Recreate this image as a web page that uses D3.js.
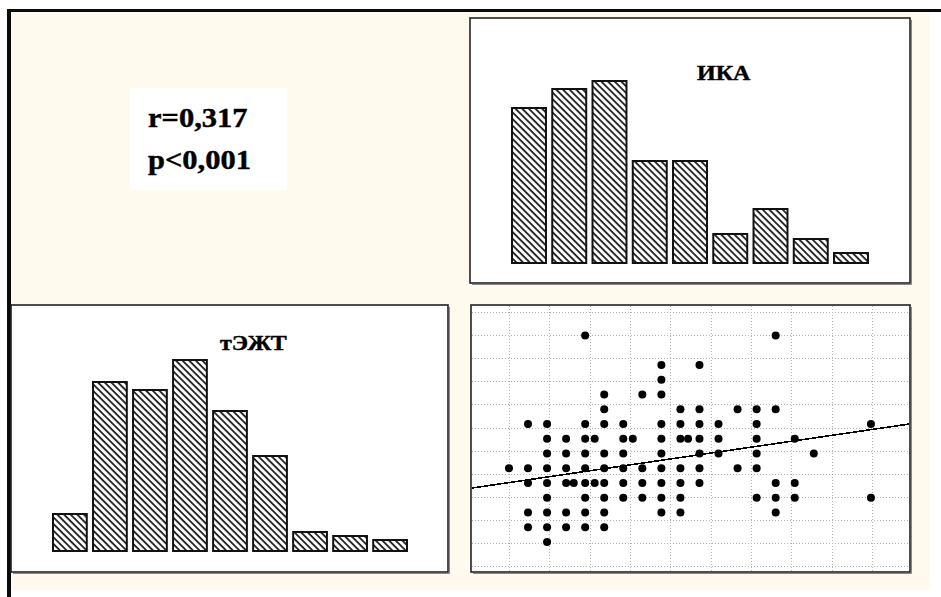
<!DOCTYPE html>
<html>
<head>
<meta charset="utf-8">
<script src="https://cdn.jsdelivr.net/npm/d3@7/dist/d3.min.js"></script>
<style>
  html, body { margin: 0; padding: 0; background: #ffffff; }
  svg { display: block; }
</style>
</head>
<body>
<script>
// ---- data -------------------------------------------------------------
// ИКА histogram: class number and frequency
const ikaClasses = [1, 2, 3, 4, 5, 6, 7, 8, 9];
const ikaFreq = [15.5, 17.4, 18.2, 10.2, 10.2, 2.9, 5.4, 2.4, 1.0];

// тЭЖТ histogram: class number and frequency
const tezhtClasses = [1, 2, 3, 4, 5, 6, 7, 8, 9];
const tezhtFreq = [3.7, 16.9, 16.1, 19.1, 14.0, 9.5, 1.9, 1.5, 1.1];

// scatter points (x, y), listed row by row from the top
const scatterX = [
  4, 14,
  8, 10,
  8,
  5, 7, 8,
  5, 9, 10, 12, 13, 14,
  1, 2, 4, 5, 6, 8, 9, 10, 11, 13, 19,
  2, 3, 4, 4.5, 6, 6.5, 8, 9, 9.4, 10, 11, 13, 15,
  2, 3, 4, 5, 6, 8, 10, 11, 13, 16,
  0, 1, 2, 3, 4, 5, 6, 7, 8, 9, 10, 12, 13,
  1, 2, 3, 3.4, 4, 4.5, 5, 6, 7, 8, 9, 10, 14, 15,
  2, 4, 5, 6, 7, 8, 9, 13, 14, 15, 19,
  1, 2, 3, 4, 5, 8, 9, 14,
  1, 2, 3, 4, 5,
  2
];
const scatterY = [
  14, 14,
  12, 12,
  11,
  10, 10, 10,
  9, 9, 9, 9, 9, 9,
  8, 8, 8, 8, 8, 8, 8, 8, 8, 8, 8,
  7, 7, 7, 7, 7, 7, 7, 7, 7, 7, 7, 7, 7,
  6, 6, 6, 6, 6, 6, 6, 6, 6, 6,
  5, 5, 5, 5, 5, 5, 5, 5, 5, 5, 5, 5, 5,
  4, 4, 4, 4, 4, 4, 4, 4, 4, 4, 4, 4, 4, 4,
  3, 3, 3, 3, 3, 3, 3, 3, 3, 3, 3,
  2, 2, 2, 2, 2, 2, 2, 2,
  1, 1, 1, 1, 1,
  0
];

// least-squares line y = a + b*x
const fitIntercept = 4.03;
const fitSlope = 0.189;

// correlation annotation
const statLines = ["r=0,317", "p<0,001"];
const ikaTitle = "ИКА";
const tezhtTitle = "тЭЖТ";

// ---- layout -----------------------------------------------------------
const W = 941, H = 597;
const svg = d3.select("body").append("svg")
  .attr("width", W).attr("height", H)
  .attr("viewBox", `0 0 ${W} ${H}`);

const defs = svg.append("defs");
// diagonal hatch for the histogram bars
const hatch = defs.append("pattern")
  .attr("id", "hatch")
  .attr("patternUnits", "userSpaceOnUse")
  .attr("width", 4.7).attr("height", 10)
  .attr("patternTransform", "rotate(-45)");
hatch.append("rect").attr("width", 4.7).attr("height", 10).attr("fill", "#ffffff");
hatch.append("line")
  .attr("x1", 1).attr("y1", 0).attr("x2", 1).attr("y2", 10)
  .attr("stroke", "#111").attr("stroke-width", 1.7);

// cream sheet with heavy left/top rule
svg.append("rect").attr("x", 11).attr("y", 12).attr("width", 919).attr("height", 578)
  .attr("fill", "#fff9ee");
svg.append("rect").attr("x", 7).attr("y", 9).attr("width", 4).attr("height", H - 9).attr("fill", "#0a0a0a");
svg.append("rect").attr("x", 7).attr("y", 9).attr("width", W - 7).attr("height", 3).attr("fill", "#0a0a0a");

function panel(x, y, w, h) {
  const g = svg.append("g");
  g.append("rect").attr("x", x).attr("y", y).attr("width", w).attr("height", h)
    .attr("fill", "#ffffff").attr("stroke", "#222").attr("stroke-width", 1.6);
  // soft shadow on the right and bottom edges
  g.append("path")
    .attr("d", `M${x + w + 1.5},${y + 2} V${y + h + 1.5} H${x + 2}`)
    .attr("fill", "none").attr("stroke", "#888").attr("stroke-width", 1);
  return g;
}

function histogram(g, classes, freq, x0, x1, baseY) {
  const x = d3.scaleBand().domain(classes).range([x0, x1])
    .paddingInner(0.156).paddingOuter(0);
  const y = d3.scaleLinear().domain([0, 20]).range([baseY, baseY - 200]);
  g.selectAll("rect.bar").data(classes).join("rect")
    .attr("class", "bar")
    .attr("x", d => x(d))
    .attr("width", x.bandwidth())
    .attr("y", (d, i) => y(freq[i]))
    .attr("height", (d, i) => y(0) - y(freq[i]))
    .attr("fill", "url(#hatch)")
    .attr("stroke", "#111").attr("stroke-width", 2);
}

function stretchedText(parent, str, x, y, size, sx) {
  return parent.append("text")
    .attr("transform", `translate(${x},${y}) scale(${sx},1)`)
    .attr("font-family", "'Liberation Serif', 'Times New Roman', serif")
    .attr("font-weight", "bold")
    .attr("font-size", size)
    .attr("fill", "#000")
    .attr("stroke", "#000")
    .attr("stroke-width", 0.4)
    .text(str);
}

// ---- ИКА histogram ----------------------------------------------------
const pIka = panel(470, 18, 440, 265);
histogram(pIka, ikaClasses, ikaFreq, 512, 868, 263);
stretchedText(pIka, ikaTitle, 697, 80, 20, 1.2);

// ---- тЭЖТ histogram ----------------------------------------------------
const pTe = panel(11, 305, 437, 267);
histogram(pTe, tezhtClasses, tezhtFreq, 53, 407, 551);
stretchedText(pTe, tezhtTitle, 220, 350, 20, 1.2);

// ---- statistics box ---------------------------------------------------
svg.append("rect").attr("x", 130).attr("y", 88).attr("width", 157).attr("height", 102)
  .attr("fill", "#ffffff");
statLines.forEach((s, i) => stretchedText(svg, s, 148, 127 + i * 42, 27, 1.13));

// ---- scatter plot -----------------------------------------------------
const sx0 = 471, sy0 = 305, sw = 439, sh = 267;
const pSc = panel(sx0, sy0, sw, sh);
defs.append("clipPath").attr("id", "scClip")
  .append("rect").attr("x", sx0 + 1).attr("y", sy0 + 1).attr("width", sw - 2).attr("height", sh - 2);

const xS = d3.scaleLinear().domain([-1.94, 21.05]).range([472, 910]);
const yS = d3.scaleLinear().domain([-2.03, 16.07]).range([572, 305]);

// dotted reference grid
const gridX = d3.range(10).map(k => k * 2.117);
const gridY = d3.range(12).map(k => 15.59 - 1.566 * k);
const grid = pSc.append("g").attr("clip-path", "url(#scClip)")
  .attr("stroke", "#b4b4b4").attr("stroke-width", 1).attr("stroke-dasharray", "1,2");
grid.selectAll("line.v").data(gridX).join("line").attr("class", "v")
  .attr("x1", d => Math.round(xS(d)) + 0.5).attr("x2", d => Math.round(xS(d)) + 0.5)
  .attr("y1", sy0 + 1).attr("y2", sy0 + sh);
grid.selectAll("line.h").data(gridY).join("line").attr("class", "h")
  .attr("y1", d => Math.round(yS(d)) + 0.5).attr("y2", d => Math.round(yS(d)) + 0.5)
  .attr("x1", sx0 + 1).attr("x2", sx0 + sw);

// regression line
const fit = x => fitIntercept + fitSlope * x;
const [dx0, dx1] = xS.domain();
pSc.append("line").attr("clip-path", "url(#scClip)")
  .attr("x1", xS(dx0)).attr("y1", yS(fit(dx0)))
  .attr("x2", xS(dx1)).attr("y2", yS(fit(dx1)))
  .attr("stroke", "#000").attr("stroke-width", 1.6)
  .attr("shape-rendering", "crispEdges");

// points
pSc.selectAll("circle.pt").data(scatterX).join("circle")
  .attr("class", "pt")
  .attr("cx", d => xS(d))
  .attr("cy", (d, i) => yS(scatterY[i]))
  .attr("r", 4)
  .attr("fill", "#000");
</script>
</body>
</html>
